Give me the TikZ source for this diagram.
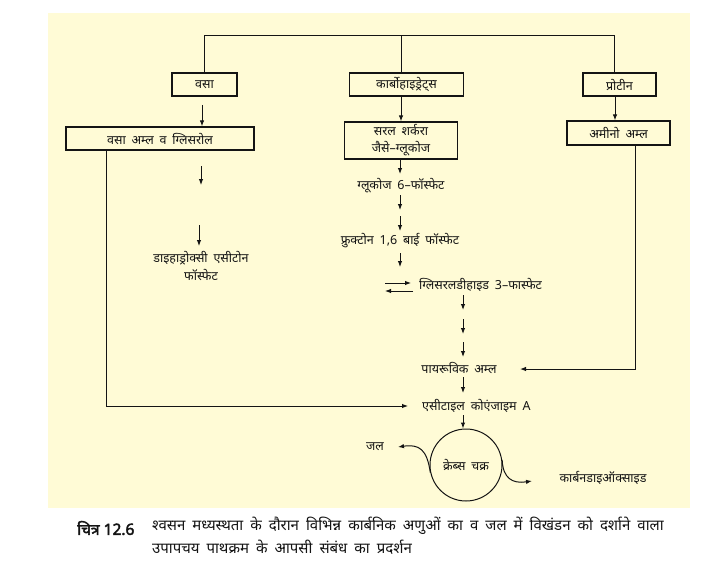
\documentclass[tikz,border=0pt]{standalone}
\usepackage{fontspec}
\setmainfont[Script=Devanagari]{Noto Sans}
\newfontfamily\hindi[Script=Devanagari]{Noto Sans}
\newfontfamily\hindibold[Script=Devanagari,FakeBold=2.5]{Noto Sans}
\newfontfamily\capfont[Script=Devanagari,WordSpace=1.8]{Noto Sans}
\usetikzlibrary{arrows.meta}
\definecolor{bgy}{RGB}{255,251,214}
\definecolor{ink}{RGB}{20,20,20}
\begin{document}
\begin{tikzpicture}[x=1pt,y=-1pt,
  every node/.style={font=\hindi\fontsize{12.5}{18}\selectfont, text=ink},
  box/.style={draw=ink, line width=1.2pt, inner sep=0pt},
  conn/.style={draw=ink, line width=1pt},
  arr/.style={conn, -{Latex[length=6pt,width=4.5pt]}},
  lbl/.style={inner sep=1pt}]
\fill[white] (0,0) rectangle (722,583);
\useasboundingbox (0,0) rectangle (722,583);
\fill[bgy] (48,13) rectangle (690,508);

% top boxes
\node[box,minimum width=65pt,minimum height=23pt] (vasa) at (204.5,84.5) {वसा};
\node[box,minimum width=114pt,minimum height=23pt] (karbo) at (406.5,84.5) {कार्बोहाइड्रेट्स};
\node[box,minimum width=73pt,minimum height=23pt] (protein) at (619.5,84.5) {प्रोटीन};

% second row
\node[box,minimum width=188pt,minimum height=23pt] (vaa) at (160,138.5) {वसा अम्ल व ग्लिसरोल};
\node[box,minimum width=113pt,minimum height=37pt,align=center] (sarala) at (401,140.5) {सरल शर्करा\\[-1pt]जैसे–ग्लूकोज};
\node[box,minimum width=103pt,minimum height=24pt] (amino) at (618.5,133) {अमीनो अम्ल};

% tree at top
\coordinate (tl) at (204,36);
\coordinate (tm) at (401,36);
\coordinate (tr) at (614,36);
\draw[conn] (vasa.north) -- (vasa.north |- tl) -- (tr) -- (protein.north -| tr);
\draw[conn] (tm) -- (karbo.north -| tm);

% arrows to second row
\coordinate (a0) at (202,105);
\draw[arr] (a0) -- (vaa.north -| a0);
\draw[arr] (sarala.north |- karbo.south) -- (sarala.north);
\coordinate (ap) at (615,0);
\draw[arr] (protein.south -| ap) -- (amino.north -| ap);

% left branch
\coordinate (l1s) at (201,166); \coordinate (l1e) at (201,185);
\draw[arr] (l1s) -- (l1e);
\coordinate (l2s) at (199,225); \coordinate (l2e) at (199,246);
\draw[arr] (l2s) -- (l2e);
\node[lbl,align=center] (dhap) at (201,266) {डाइहाड्रोक्सी एसीटोन\\फॉस्फेट};

% middle chain
\node[lbl] (glu) at (401,186) {ग्लूकोज 6–फॉस्फेट};
\coordinate (g0) at (400,159); \coordinate (g1) at (400,174);
\draw[arr] (g0) -- (g1);
\coordinate (m1s) at (400,195); \coordinate (m1e) at (400,210);
\draw[arr] (m1s) -- (m1e);
\coordinate (m2s) at (400,216); \coordinate (m2e) at (400,231);
\draw[arr] (m2s) -- (m2e);
\node[lbl] (fru) at (400,241) {फ्रुक्टोन 1,6 बाई फॉस्फेट};
\coordinate (m3s) at (400,253); \coordinate (m3e) at (400,267);
\draw[arr] (m3s) -- (m3e);
\node[lbl,anchor=west] (gly) at (418,285) {ग्लिसरलडीहाइड 3–फास्फेट};
\coordinate (e1s) at (385,283); \coordinate (e1e) at (411,283);
\draw[arr] (e1s) -- (e1e);
\coordinate (e2s) at (413,291); \coordinate (e2e) at (385,291);
\draw[arr] (e2s) -- (e2e);
\coordinate (p1s) at (463,295); \coordinate (p1e) at (463,310);
\draw[arr] (p1s) -- (p1e);
\coordinate (p2s) at (463,319); \coordinate (p2e) at (463,334);
\draw[arr] (p2s) -- (p2e);
\coordinate (p3s) at (463,342); \coordinate (p3e) at (463,357);
\draw[arr] (p3s) -- (p3e);
\node[lbl] (pyr) at (459,368) {पायरूविक अम्ल};
\coordinate (q1s) at (463,377); \coordinate (q1e) at (463,393);
\draw[arr] (q1s) -- (q1e);
\node[lbl,anchor=west] (acet) at (421,406) {एसीटाइल कोएंजाइम A};

% side lines
\coordinate (rl) at (635,0);
\coordinate (pyrin) at (520,369);
\draw[arr] (amino.south -| rl) |- (pyrin);
\coordinate (ll) at (106,0);
\coordinate (acin) at (408,406);
\draw[arr] (vaa.south -| ll) |- (acin);

% krebs cycle
\node[draw=ink,line width=1pt,circle,minimum size=72pt,inner sep=0pt] (krebs) at (466,465) {क्रेब्स चक्र};
\coordinate (k0) at (463,415);
\draw[arr] (k0) -- (krebs.north -| k0);
\node[lbl] (jal) at (375,447) {जल};
\coordinate (jalin) at (398,447);
\draw[arr] (krebs.192) .. controls (427,449) and (419,444) .. (jalin);
\node[lbl] (co2) at (603,478) {कार्बनडाइऑक्साइड};
\coordinate (co2in) at (532,481);
\draw[arr] (krebs.8) .. controls (503,478) and (512,484) .. (co2in);

% caption
\node[lbl,anchor=west,font=\hindibold\fontsize{15.5}{19}\selectfont] (fig) at (76,528) {चित्र 12.6};
\node[lbl,anchor=north west,align=left,font=\capfont\fontsize{15}{22.5}\selectfont] (cap) at (151,516) {श्वसन मध्यस्थता के दौरान विभिन्न कार्बनिक अणुओं का व जल में विखंडन को दर्शाने वाला\\उपापचय पाथक्रम के आपसी संबंध का प्रदर्शन};
\end{tikzpicture}
\end{document}
